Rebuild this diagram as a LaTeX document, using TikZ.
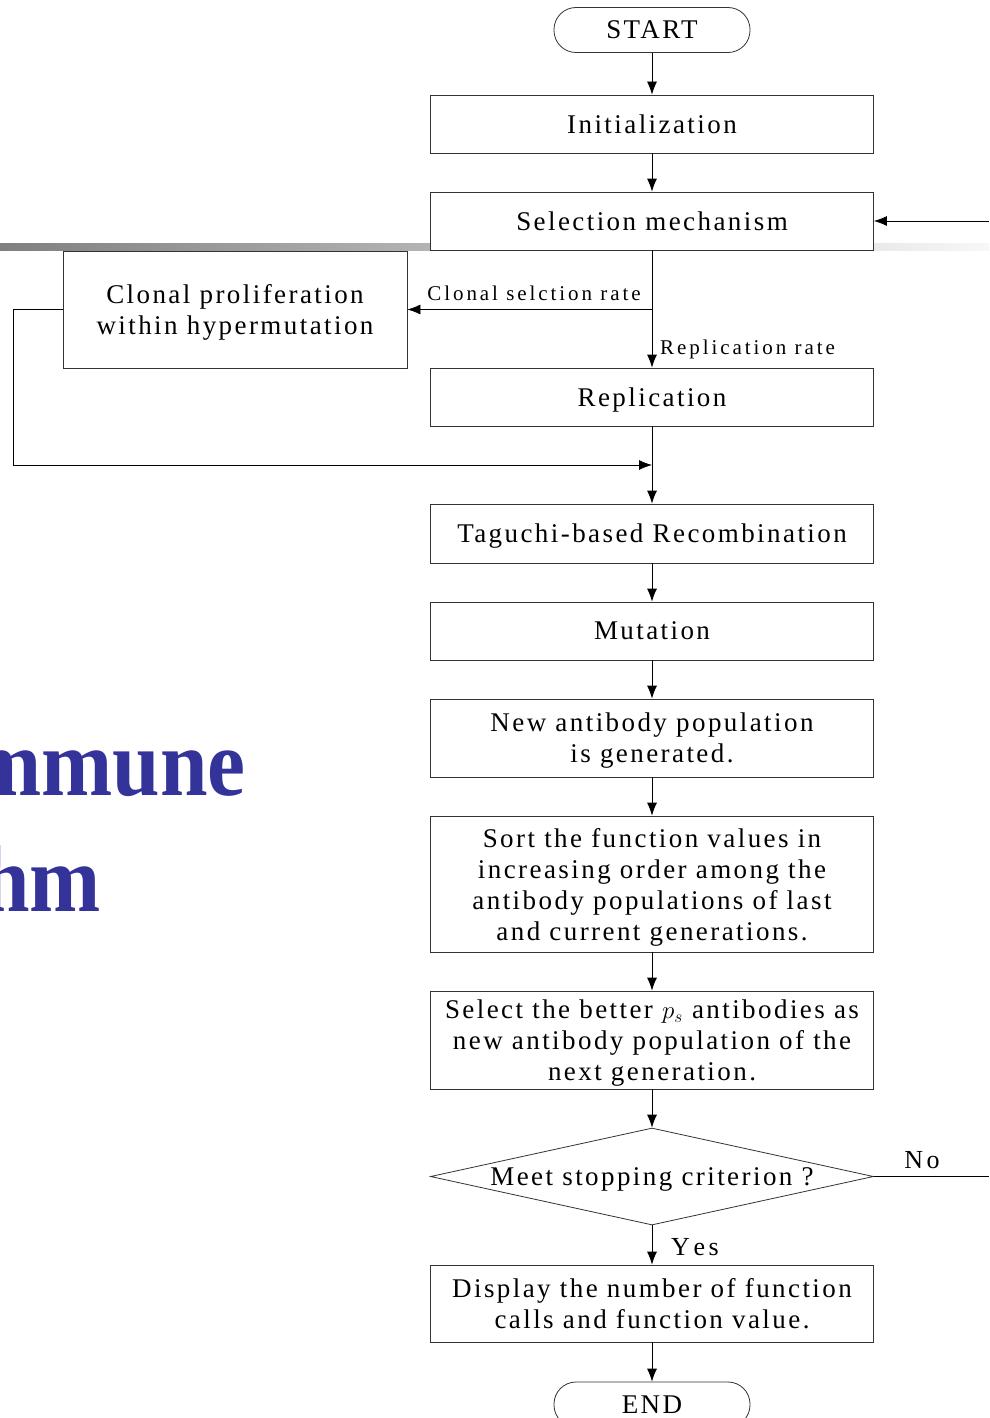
\documentclass[tikz,border=0pt]{standalone}
\usepackage{fontspec}
\setmainfont{Liberation Serif}[LetterSpace=9]
\newfontfamily\slidefont{Liberation Serif}
\newfontfamily\labelfont{Liberation Serif}[LetterSpace=14, Kerning=Off]
\usetikzlibrary{arrows.meta,shapes.geometric}
\definecolor{slideblue}{HTML}{333399}

\tikzset{
    procbox/.style={draw=black!80, fill=white, line width=0.8pt, minimum width=443pt,
        align=center, inner sep=0pt, text depth=0pt, font=\fontsize{27}{31}\selectfont},
    termbox/.style={draw=black!80, fill=white, line width=0.8pt, rounded corners=22pt,
        minimum width=196pt, minimum height=45pt, inner sep=0pt, font=\fontsize{27}{31}\selectfont},
    decision/.style={draw=black!80, fill=white, line width=0.8pt, diamond, aspect=4.57,
        minimum width=443pt, minimum height=97pt, inner sep=0pt, text depth=0pt,
        font=\fontsize{27}{31}\selectfont},
    flowline/.style={line width=0.8pt, -{Latex[length=13pt,width=10pt]}},
    ratelabel/.style={inner sep=1pt, font=\labelfont\fontsize{21}{24}\selectfont},
    answer/.style={inner sep=1pt, font=\labelfont\fontsize{26}{28}\selectfont},
    slidetitle/.style={anchor=base east, inner sep=0pt, text=slideblue, xscale=0.9,
        transform shape, font=\slidefont\bfseries\fontsize{95}{95}\selectfont}
}

\begin{document}
\begin{tikzpicture}[x=1pt, y=-1pt]
    \useasboundingbox (0,0) rectangle (989,1418);
    % slide background
    \shade[left color=black!50, right color=black!3] (0,243) rectangle (989,250);
    \node[slidetitle] (immune) at (246,795) {Immune};
    \node[slidetitle] (algo) at (101,911) {Algorithm};

    % flow chart
    \node[termbox] (start) at (652,30) {START};
    \node[procbox, minimum height=58pt] (init) at (652,124) {Initialization};
    \node[procbox, minimum height=58pt] (select) at (652,221) {Selection mechanism};
    \node[procbox, minimum width=344pt, minimum height=117pt] (clonal) at (235,309.5)
        {Clonal proliferation\\within hypermutation};
    \node[procbox, minimum height=58pt] (repl) at (652,397) {Replication};
    \node[procbox, minimum height=59pt] (taguchi) at (652,533.5) {Taguchi-based Recombination};
    \node[procbox, minimum height=58pt] (mutat) at (652,631) {Mutation};
    \node[procbox, minimum height=78pt] (newpop) at (652,738) {New antibody population\\is generated.};
    \node[procbox, minimum height=136pt] (sorting) at (652,884)
        {Sort the function values in\\increasing order among the\\antibody populations of last\\and current generations.};
    \node[procbox, minimum height=98pt] (better) at (652,1040)
        {Select the better $p_{s}$ antibodies as\\new antibody population of the\\next generation.};
    \node[decision] (stopq) at (652,1176.5) {Meet stopping criterion ?};
    \node[procbox, minimum height=77pt] (show) at (652,1303.5)
        {Display the number of function\\calls and function value.};
    \node[termbox] (finish) at (652,1404.5) {END};

    % labels
    \node[ratelabel, anchor=base] (clonrate) at (534,300) {Clonal selction rate};
    \node[ratelabel, anchor=base west] (replrate) at (659,354) {Replication rate};
    \node[answer, anchor=base] (yes) at (695,1255) {Yes};
    \node[answer, anchor=base] (no) at (922,1168) {No};

    % connectors
    \coordinate (fork) at (652,309.5);
    \coordinate (merge) at (652,465);
    \coordinate (loopin) at (989,221);
    \coordinate (loopout) at (989,1176.5);
    \draw[flowline] (start) -- (init);
    \draw[flowline] (init) -- (select);
    \draw[flowline] (select) -- (repl);
    \draw[flowline] (fork) -- (clonal.east);
    \draw[flowline] (clonal.west) -- (13,309.5) |- (merge);
    \draw[flowline] (repl) -- (taguchi);
    \draw[flowline] (taguchi) -- (mutat);
    \draw[flowline] (mutat) -- (newpop);
    \draw[flowline] (newpop) -- (sorting);
    \draw[flowline] (sorting) -- (better);
    \draw[flowline] (better) -- (stopq);
    \draw[flowline] (stopq) -- (show);
    \draw[flowline] (show) -- (finish);
    \draw[flowline] (loopin) -- (select.east);
    \draw[line width=0.8pt] (stopq.east) -- (loopout);
\end{tikzpicture}
\end{document}
